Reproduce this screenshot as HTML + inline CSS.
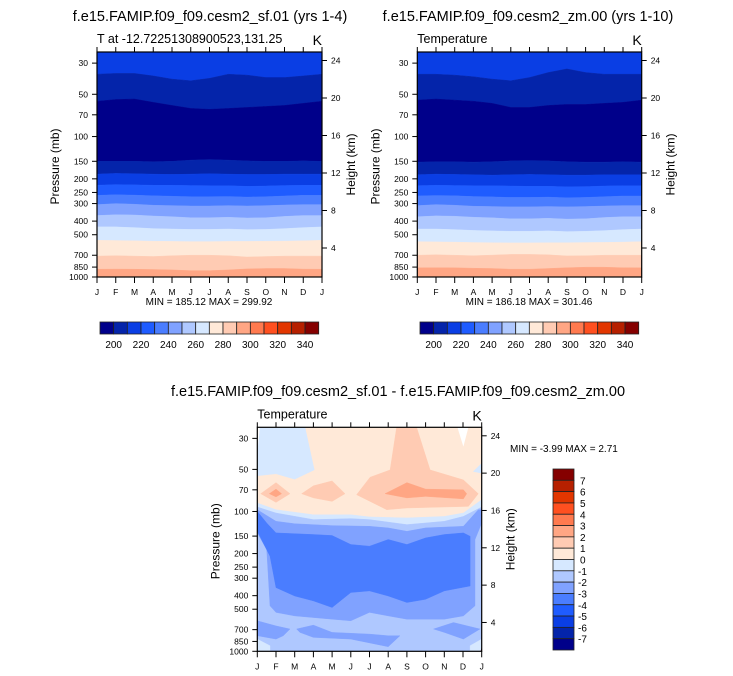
<!DOCTYPE html>
<html><head><meta charset="utf-8">
<style>
html,body{margin:0;padding:0;background:#fff;}
svg{display:block;font-family:"Liberation Sans",Arial,sans-serif;}
</style></head>
<body>
<svg id="root" width="733" height="676" viewBox="0 0 733 676" xmlns="http://www.w3.org/2000/svg"></svg>
<script>
// ---------------- data ----------------
const months = ['J','F','M','A','M','J','J','A','S','O','N','D','J'];
const pressureTicks = [30,50,70,100,150,200,250,300,400,500,700,850,1000];
const heightTicks = [4,8,12,16,20,24];
const absLevels = [190,200,210,220,230,240,250,260,270,280,290,300,310,320,330,340,350];
const absLabels = [200,220,240,260,280,300,320,340];
const diffLabels = [7,6,5,4,3,2,1,0,-1,-2,-3,-4,-5,-6,-7];
const palette = ['#00008a','#0424aa','#0a3ee4','#1f5cff','#4a7dff','#80a2ff','#afc8ff','#d6e8ff','#ffe9d8','#ffcbb3','#ffa684','#ff7a4f','#ff5020','#e23600','#b62000','#850000'];

// Panel 1 (sf.01): top-down band color indices and contour boundaries (pressure per month)
const p1Bands = [2,1,0,1,2,3,4,5,6,7,8,9,10];
const p1B1  = [36,35.5,35.5,37,39,40,38.5,36,36.5,38,38,37,36];
const p1B2  = [56,54.5,54,57,60,63,64,63,62,61,60,58,56];
const p1B3  = [150,150,150,151,150,147,146,147,149,150,150,149,150];
const p1B4  = [185,183,184,185,186,185,184,185,186,186,185,185,185];
const p1B5  = [222,220,221,222,222,223,224,224,226,225,223,222,222];
const p1B6  = [262,260,261,264,266,268,268,267,270,268,265,262,262];
const p1B7  = [305,300,303,308,310,312,312,310,312,310,307,305,305];
const p1B8  = [365,360,362,368,372,378,378,375,380,378,370,365,365];
const p1B9  = [440,440,445,452,455,458,458,455,460,458,452,445,440];
const p1B10 = [548,550,552,556,558,560,560,558,558,556,555,552,548];
const p1B11 = [710,705,710,715,705,700,700,705,720,715,710,710,710];
const p1B12 = [880,878,880,885,890,900,900,890,875,870,870,878,880];

// Panel 2 (zm.00)
const p2Bands = [2,1,0,1,2,3,4,5,6,7,8,9,10];
const p2B1  = [36,36,36.5,37.5,39,40,38,35,33,35,36,36,36];
const p2B2  = [55,54,55,56,58,62,62,60,59,59,58,57,55];
const p2B3  = [152,151,151,152,151,149,148,149,151,152,152,151,152];
const p2B4  = [187,185,186,187,188,187,186,187,188,188,187,187,187];
const p2B5  = [224,222,223,224,224,225,226,226,228,227,225,224,224];
const p2B6  = [265,263,264,267,269,271,271,270,273,271,268,265,265];
const p2B7  = [310,305,308,313,315,317,317,315,317,315,312,310,310];
const p2B8  = [372,367,369,375,379,385,385,382,387,385,377,372,372];
const p2B9  = [455,455,460,466,470,473,473,470,475,473,467,460,455];
const p2B10 = [560,562,564,568,570,572,572,570,570,568,567,564,560];
const p2B11 = [700,695,700,705,698,690,690,695,708,705,700,700,700];
const p2B12 = [860,858,860,865,870,880,880,870,858,852,852,858,860];

// Panel 3 (difference): regions drawn in order, [month, pressure] vertices, color index
const dBackground = 8;
const dRegionColors = [7,7,9,9,9,10,10,7,6,5,4,5,5,5,7,7,15];
const dR0  = [[0,25],[2.55,25],[3.05,50.4],[2,58.8],[1,53.8],[0,55.6]];
const dR1  = [[12,45.2],[11.55,51.8],[12,53.2]];
const dR2  = [[7.45,25],[8.52,25],[9.24,50.4],[11.02,59.4],[11.82,74.6],[11.29,92],[8,94.4],[6.92,97.1],[5.31,75.9],[6.03,56.9],[7.1,50.4]];
const dR3  = [[0.18,74.6],[1,62.1],[1.75,74.6],[1,86.1]];
const dR4  = [[2.37,74.6],[3,65.5],[4,60.4],[4.69,74.6],[4,84.7],[3,80]];
const dR5  = [[0.64,74.6],[1,69.2],[1.3,74.6],[1,78.7]];
const dR6  = [[6.83,74.6],[8,62.1],[9,69.2],[11.02,70],[11.2,74.6],[11.02,81.3],[9,78],[8,80]];
const dR7  = [[0,87],[1,97.1],[3,105.4],[5,105.4],[6,109.4],[8,111.2],[10,108.4],[11.02,102.5],[12,82.4],[12,1000],[0,1000]];
const dR8  = [[0,92.9],[1,102.5],[3,114.3],[5,112.4],[6,114.3],[8,124.2],[10,117.5],[11.02,108.4],[12,92.9],[12,1000],[0,1000]];
const dR9  = [[0,97.1],[1,117.5],[2,122.2],[4,126.2],[6,127.6],[7,131],[8,138.6],[9,131],[11.02,127.6],[11.82,97.1],[12,97.1],[12,120.8],[11.64,158.6],[11.64,473],[11.02,558],[10,589],[9,589],[8,589],[7,558],[6,527],[5,605],[4,589],[2,558],[1,527],[0.68,473],[0.5,187],[0,142.2]];
const dR10 = [[0,99.8],[0.5,120.8],[1,142.2],[3,146.2],[4,148.6],[5,172.2],[6,177],[7,158.6],[8,172.2],[9,154.5],[10,146.2],[11.02,142.2],[11.38,150.4],[11.38,341],[10,370],[9,425],[8,448],[7,402],[6,370],[5,380],[4,486],[3,436],[2,402],[1,350],[0.68,208.9],[0,138.6]];
const dR11 = [[0,605],[1,658],[1.75,693],[1.39,774],[1,818],[0,774]];
const dR12 = [[2.1,693],[3,650],[4,733],[6,753],[7,774],[7.63,774],[7,927],[5,818],[3,795],[2.28,733]];
const dR13 = [[9.42,693],[10.49,622],[11.91,693],[11.02,818],[10,733]];
const dR14 = [[0,818],[0.68,912],[0.68,1000],[0,1000]];
const dR15 = [[11.38,1000],[11.38,912],[12,818],[12,1000]];
const dR16 = [[11.95,1000],[12,950],[12,1000]];

// ---------------- drawing ----------------
const NS='http://www.w3.org/2000/svg';
const root=document.getElementById('root');
function mk(tag,attrs,parent){const e=document.createElementNS(NS,tag);for(const k in attrs)e.setAttribute(k,attrs[k]);(parent||root).appendChild(e);return e;}
function txt(s,x,y,size,anchor,parent,extra){const t=mk('text',Object.assign({x:x,y:y,'font-size':size,'text-anchor':anchor||'start',fill:'#000'},extra||{}),parent);t.textContent=s;return t;}

function makeAxes(L,T,W,H){
  const ptop=25;
  return {
    x:m=>L+W*m/12,
    y:p=>T+H*(Math.log10(p)-Math.log10(ptop))/(Math.log10(1000)-Math.log10(ptop)),
    yz:z=>T+H+8.5-9.375*z*(H/225),
    L:L,T:T,W:W,H:H
  };
}
function drawFrame(g,a,title,unit){
  const {L,T,W,H}=a;
  const fr=mk('rect',{x:L,y:T,width:W,height:H,fill:'none',stroke:'#000','stroke-width':1.2},g);
  
  
  pressureTicks.forEach(p=>{
    const y=a.y(p);
    mk('line',{x1:L-5,y1:y,x2:L,y2:y,stroke:'#000','stroke-width':1},g);
    const t=txt(String(p),L-9,y+3,8.5,'end',g);
    
    
  });
  heightTicks.forEach(z=>{
    const y=a.yz(z);
    mk('line',{x1:L+W,y1:y,x2:L+W+5,y2:y,stroke:'#000','stroke-width':1},g);
    const t=txt(String(z),L+W+9,y+3,8.5,'start',g);
    
    
  });
  months.forEach((m,i)=>{
    const x=a.x(i);
    mk('line',{x1:x,y1:T+H,x2:x,y2:T+H+6,stroke:'#000','stroke-width':1},g);
    mk('line',{x1:x,y1:T,x2:x,y2:T-5,stroke:'#000','stroke-width':1},g);
    const t=txt(m,x,T+H+18,8.5,'middle',g);
    
    
  });
  const yl=txt('Pressure (mb)',0,0,12,'middle',g,{transform:`translate(${L-38},${T+H/2+2}) rotate(-90)`});
  
  
  const hl=txt('Height (km)',0,0,12,'middle',g,{transform:`translate(${L+W+33},${T+H/2}) rotate(-90)`});
  
  
  const st=txt(title,L,T-9,12.5,'start',g);
  
  
  const u=txt(unit,L+W,T-7,14,'end',g);
  
  
}
function drawBands(g,a,bands,bounds){
  const top=months.map(()=>25), bot=months.map(()=>1000);
  const all=[top].concat(bounds).concat([bot]);
  bands.forEach((ci,k)=>{
    const up=all[k], lo=all[k+1];
    let d='';
    up.forEach((p,i)=>{d+=(i?'L':'M')+a.x(i).toFixed(1)+','+a.y(p).toFixed(1);});
    for(let i=lo.length-1;i>=0;i--) d+='L'+a.x(i).toFixed(1)+','+a.y(lo[i]).toFixed(1);
    const e=mk('path',{d:d+'Z',fill:palette[ci],stroke:palette[ci],'stroke-width':0.4},g);
    
    
  });
}
function drawHColorbar(g,L,T,W,H){
  const n=palette.length, bw=W/n;
  palette.forEach((c,i)=>{
    const r=mk('rect',{x:L+i*bw,y:T,width:bw,height:H,fill:c,stroke:'#222','stroke-width':0.8},g);
    
    
  });
  absLabels.forEach(v=>{
    const i=absLevels.indexOf(v);
    const t=txt(String(v),L+i*bw,T+H+14,10,'middle',g);
    
    
  });
}

// ----- Panel 1 -----
const g1=mk('g',{});


const a1=makeAxes(97,52,225,225);
const t1=txt('f.e15.FAMIP.f09_f09.cesm2_sf.01 (yrs 1-4)',210,21,14.5,'middle',g1);


drawBands(g1,a1,p1Bands,[p1B1,p1B2,p1B3,p1B4,p1B5,p1B6,p1B7,p1B8,p1B9,p1B10,p1B11,p1B12]);
drawFrame(g1,a1,'T at -12.72251308900523,131.25','K');
const m1=txt('MIN = 185.12 MAX = 299.92',209,305,10,'middle',g1);


drawHColorbar(g1,100,322,218.7,12);

// ----- Panel 2 -----
const g2=mk('g',{});


const a2=makeAxes(417.3,52,224.4,225);
const t2=txt('f.e15.FAMIP.f09_f09.cesm2_zm.00 (yrs 1-10)',528,21,14.5,'middle',g2);


drawBands(g2,a2,p2Bands,[p2B1,p2B2,p2B3,p2B4,p2B5,p2B6,p2B7,p2B8,p2B9,p2B10,p2B11,p2B12]);
drawFrame(g2,a2,'Temperature','K');
const m2=txt('MIN = 186.18 MAX = 301.46',529,305,10,'middle',g2);


drawHColorbar(g2,420,322,218.7,12);

// ----- Panel 3 -----
const g3=mk('g',{});


const a3=makeAxes(257.3,427.3,224.4,224);
const t3=txt('f.e15.FAMIP.f09_f09.cesm2_sf.01 - f.e15.FAMIP.f09_f09.cesm2_zm.00',398,396,14.5,'middle',g3);


const bg=mk('rect',{x:a3.L,y:a3.T,width:a3.W,height:a3.H,fill:palette[dBackground]},g3);


const dRegions=[dR0,dR1,dR2,dR3,dR4,dR5,dR6,dR7,dR8,dR9,dR10,dR11,dR12,dR13,dR14,dR15,dR16];
const clip=mk('clipPath',{id:'c3'},g3);
mk('rect',{x:a3.L,y:a3.T,width:a3.W,height:a3.H},clip);
const gr=mk('g',{'clip-path':'url(#c3)'},g3);
dRegions.forEach((reg,k)=>{
  const pts=reg.map(v=>a3.x(v[0]).toFixed(1)+','+a3.y(v[1]).toFixed(1)).join(' ');
  const c=palette[dRegionColors[k]];
  const e=mk('polygon',{points:pts,fill:c,stroke:c,'stroke-width':0.4},gr);
  
  
});
const n1=mk('polygon',{points:`${a3.x(10.7)},${a3.T} ${a3.x(11.29)},${a3.T} ${a3.x(11.02)},${a3.y(34.4)}`,fill:'#fff'},gr);


const n2=mk('polygon',{points:`${a3.x(0)},${a3.T} ${a3.x(0.14)},${a3.T} ${a3.x(0)},${a3.y(38.4)}`,fill:'#fff'},gr);


drawFrame(g3,a3,'Temperature','K');
const m3=txt('MIN =  -3.99 MAX =   2.71',510,452,10,'start',g3,{'xml:space':'preserve'});


const vbL=553,vbT=469,vbW=21,vbH=181,vn=palette.length,vbh=vbH/vn;
palette.slice().reverse().forEach((c,i)=>{
  const r=mk('rect',{x:vbL,y:vbT+i*vbh,width:vbW,height:vbh,fill:c,stroke:'#222','stroke-width':0.8},g3);
  
  
});
diffLabels.forEach((v,i)=>{
  const t=txt(String(v),vbL+vbW+(v<0?4:6),vbT+(i+1)*vbh+4,10,'start',g3);
  
  
});
</script>
</body></html>
